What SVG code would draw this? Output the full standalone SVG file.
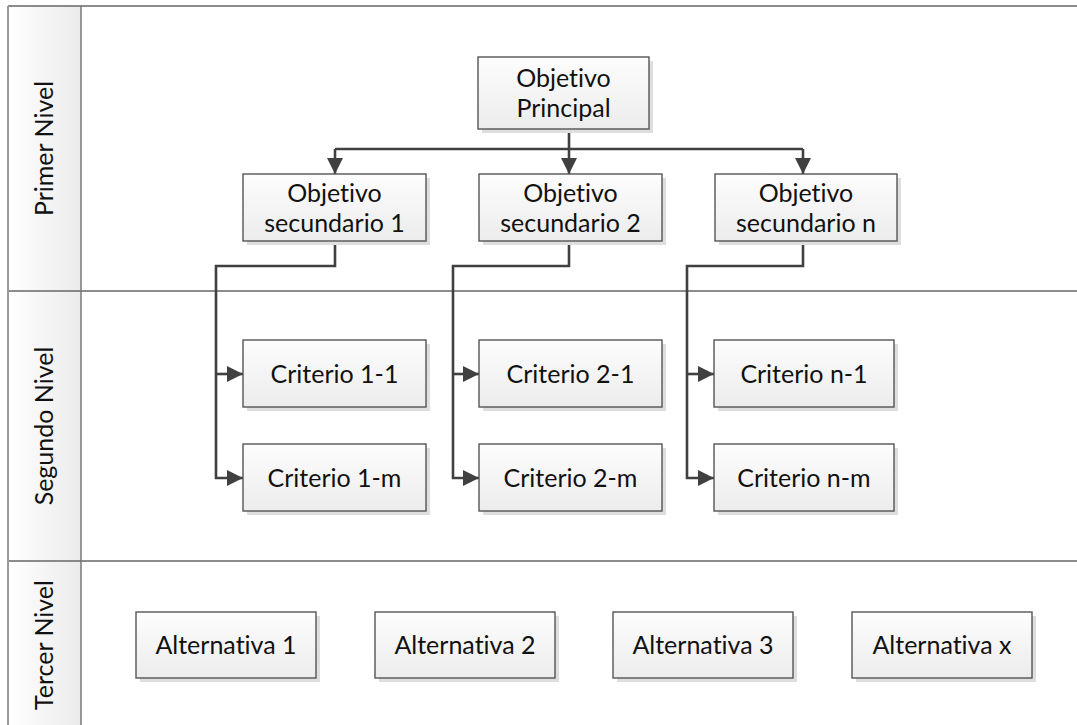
<svg xmlns="http://www.w3.org/2000/svg" width="1077" height="725" viewBox="0 0 1077 725">
  <style>
    text { font-family: Lato, "Open Sans", "DejaVu Sans", sans-serif; font-size: 25px; fill: #111; font-variant-ligatures: none; font-feature-settings: "liga" 0, "dlig" 0; }
    .box { fill: url(#boxFill); stroke: #555; stroke-width: 1.4; }
    .shadow { fill: #dedede; }
    .lane { stroke: #666; stroke-width: 1.5; fill: none; }
    .wire { stroke: #404040; stroke-width: 2.6; fill: none; stroke-linejoin: miter; }
    .label { text-anchor: middle; }
  </style>
  <defs>
    <linearGradient id="boxFill" x1="0" y1="0" x2="0" y2="1">
      <stop offset="0" stop-color="#fdfdfd"/>
      <stop offset="1" stop-color="#ececec"/>
    </linearGradient>
    <linearGradient id="laneFill" x1="0" y1="0" x2="1" y2="0">
      <stop offset="0" stop-color="#ffffff"/>
      <stop offset="1" stop-color="#ebebeb"/>
    </linearGradient>
    <marker id="arrow" markerUnits="userSpaceOnUse" markerWidth="17" markerHeight="16" refX="16" refY="8" orient="auto">
      <path d="M0,0 L16,8 L0,16 z" fill="#404040"/>
    </marker>
  </defs>

  <rect width="1077" height="725" fill="#ffffff"/>

  <!-- swimlane frame -->
  <g id="lanes">
    <rect x="8" y="6" width="73" height="730" fill="url(#laneFill)"/>
    <line x1="8" y1="6" x2="1077" y2="6" class="lane" stroke="#888"/>
    <line x1="8" y1="291" x2="1077" y2="291" class="lane"/>
    <line x1="8" y1="561" x2="1077" y2="561" class="lane"/>
    <line x1="8" y1="6" x2="8" y2="725" stroke="#999" stroke-width="2"/>
    <line x1="81" y1="6" x2="81" y2="725" stroke="#777" stroke-width="1.5"/>
    <text class="label" transform="translate(53,148.5) rotate(-90)">Primer Nivel</text>
    <text class="label" transform="translate(53,426) rotate(-90)">Segundo Nivel</text>
    <text class="label" transform="translate(53,645) rotate(-90)">Tercer Nivel</text>
  </g>

  <!-- connectors -->
  <g id="connectors">
    <path class="wire" d="M569,129 V174" marker-end="url(#arrow)"/>
    <path class="wire" d="M335,149 H803"/>
    <path class="wire" d="M335,149 V174" marker-end="url(#arrow)"/>
    <path class="wire" d="M803,149 V174" marker-end="url(#arrow)"/>

    <path class="wire" d="M335,241 V266 H216 V478 H243" marker-end="url(#arrow)"/>
    <path class="wire" d="M216,374 H243" marker-end="url(#arrow)"/>

    <path class="wire" d="M569,241 V266 H453 V478 H479" marker-end="url(#arrow)"/>
    <path class="wire" d="M453,374 H479" marker-end="url(#arrow)"/>

    <path class="wire" d="M803,241 V266 H687 V478 H714" marker-end="url(#arrow)"/>
    <path class="wire" d="M687,374 H714" marker-end="url(#arrow)"/>
  </g>

  <!-- first level -->
  <g id="objetivo-principal">
    <rect class="shadow" x="482" y="61" width="171" height="72"/>
    <rect class="box" x="478" y="57" width="171" height="72"/>
    <text class="label" x="563.5" y="87">Objetivo</text>
    <text class="label" x="563.5" y="117">Principal</text>
  </g>
  <g id="objetivo-sec-1">
    <rect class="shadow" x="247" y="178" width="183" height="67"/>
    <rect class="box" x="243" y="174" width="183" height="67"/>
    <text class="label" x="334.5" y="202">Objetivo</text>
    <text class="label" x="334.5" y="232">secundario 1</text>
  </g>
  <g id="objetivo-sec-2">
    <rect class="shadow" x="483" y="178" width="183" height="67"/>
    <rect class="box" x="479" y="174" width="183" height="67"/>
    <text class="label" x="570.5" y="202">Objetivo</text>
    <text class="label" x="570.5" y="232">secundario 2</text>
  </g>
  <g id="objetivo-sec-n">
    <rect class="shadow" x="719" y="178" width="182" height="67"/>
    <rect class="box" x="715" y="174" width="182" height="67"/>
    <text class="label" x="806" y="202">Objetivo</text>
    <text class="label" x="806" y="232">secundario n</text>
  </g>

  <!-- second level -->
  <g id="criterio-1-1">
    <rect class="shadow" x="247" y="344" width="183" height="67"/>
    <rect class="box" x="243" y="340" width="183" height="67"/>
    <text class="label" x="334.5" y="382.5">Criterio 1-1</text>
  </g>
  <g id="criterio-1-m">
    <rect class="shadow" x="247" y="448" width="183" height="67"/>
    <rect class="box" x="243" y="444" width="183" height="67"/>
    <text class="label" x="334.5" y="486.5">Criterio 1-m</text>
  </g>
  <g id="criterio-2-1">
    <rect class="shadow" x="483" y="344" width="183" height="67"/>
    <rect class="box" x="479" y="340" width="183" height="67"/>
    <text class="label" x="570.5" y="382.5">Criterio 2-1</text>
  </g>
  <g id="criterio-2-m">
    <rect class="shadow" x="483" y="448" width="183" height="67"/>
    <rect class="box" x="479" y="444" width="183" height="67"/>
    <text class="label" x="570.5" y="486.5">Criterio 2-m</text>
  </g>
  <g id="criterio-n-1">
    <rect class="shadow" x="718" y="344" width="180" height="67"/>
    <rect class="box" x="714" y="340" width="180" height="67"/>
    <text class="label" x="804" y="382.5">Criterio n-1</text>
  </g>
  <g id="criterio-n-m">
    <rect class="shadow" x="718" y="448" width="180" height="67"/>
    <rect class="box" x="714" y="444" width="180" height="67"/>
    <text class="label" x="804" y="486.5">Criterio n-m</text>
  </g>

  <!-- third level -->
  <g id="alternativa-1">
    <rect class="shadow" x="140" y="616" width="180" height="66"/>
    <rect class="box" x="136" y="612" width="180" height="66"/>
    <text class="label" x="226" y="654">Alternativa 1</text>
  </g>
  <g id="alternativa-2">
    <rect class="shadow" x="379" y="616" width="180" height="66"/>
    <rect class="box" x="375" y="612" width="180" height="66"/>
    <text class="label" x="465" y="654">Alternativa 2</text>
  </g>
  <g id="alternativa-3">
    <rect class="shadow" x="617" y="616" width="180" height="66"/>
    <rect class="box" x="613" y="612" width="180" height="66"/>
    <text class="label" x="703" y="654">Alternativa 3</text>
  </g>
  <g id="alternativa-x">
    <rect class="shadow" x="856" y="616" width="180" height="66"/>
    <rect class="box" x="852" y="612" width="180" height="66"/>
    <text class="label" x="942" y="654">Alternativa x</text>
  </g>
</svg>
